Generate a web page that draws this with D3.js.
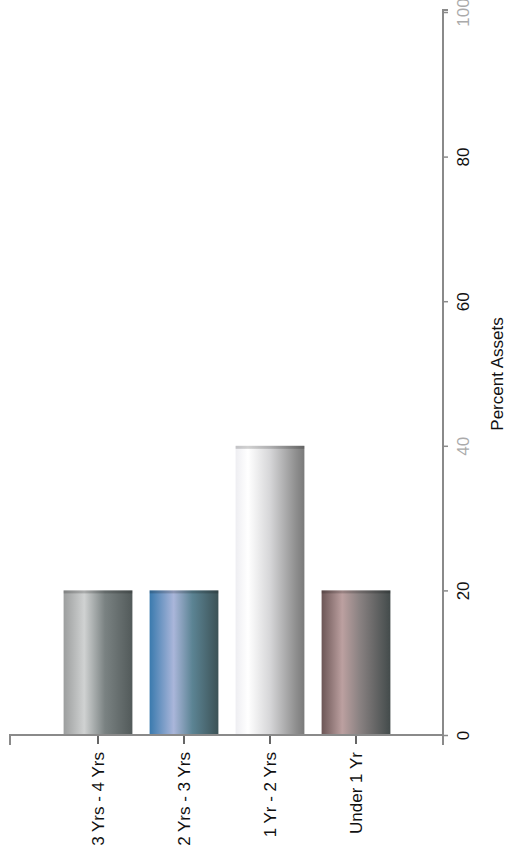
<!DOCTYPE html>
<html><head><meta charset="utf-8">
<script src="https://cdn.jsdelivr.net/npm/d3@7"></script>
<style>html,body{margin:0;padding:0;background:#fff;}svg{display:block;}</style>
</head><body>
<script>
const categories = ["3 Yrs - 4 Yrs", "2 Yrs - 3 Yrs", "1 Yr - 2 Yrs", "Under 1 Yr"];
const values = [20, 20, 40, 20];
const tickValues = [0, 20, 40, 60, 80, 100];
const axisTitle = "Percent Assets";

const W = 509, H = 858;
const svg = d3.select("body").append("svg").attr("width", W).attr("height", H);

const gradStops = [
  [["0%","#9c9e9e"],["30%","#d0d2d2"],["60%","#7a8282"],["100%","#525a5a"]],
  [["0%","#3a7aae"],["35%","#aab6da"],["62%","#5c8494"],["100%","#3c5256"]],
  [["0%","#eeeef2"],["18%","#ffffff"],["50%","#d6d6d8"],["88%","#8e8e8e"],["100%","#7a7a7a"]],
  [["0%","#6c5656"],["30%","#bca0a0"],["55%","#8a8282"],["100%","#434b4b"]]
];
const defs = svg.append("defs");
gradStops.forEach((stops, i) => {
  const g = defs.append("linearGradient").attr("id", "g" + i)
    .attr("x1", "0%").attr("x2", "100%").attr("y1", "0%").attr("y2", "0%");
  stops.forEach(s => g.append("stop").attr("offset", s[0]).attr("stop-color", s[1]));
});

const y = d3.scaleLinear().domain([0, 100]).range([735, 12]);
const x = d3.scaleBand().domain(categories).range([55, 399]).paddingInner(0.2).paddingOuter(0.1);

// bars
svg.selectAll("rect.bar").data(values).enter().append("rect")
  .attr("class", "bar")
  .attr("x", (d, i) => x(categories[i]))
  .attr("width", x.bandwidth())
  .attr("y", d => y(d))
  .attr("height", d => y(0) - y(d))
  .attr("fill", (d, i) => "url(#g" + i + ")");
// darker top caps
svg.selectAll("rect.cap").data(values).enter().append("rect")
  .attr("x", (d, i) => x(categories[i]))
  .attr("width", x.bandwidth())
  .attr("y", d => y(d))
  .attr("height", 3)
  .attr("fill", "#000").attr("opacity", 0.18);

// bottom (category) axis
const xAxis = svg.append("g").attr("transform", `translate(0,${y(0)})`)
  .call(d3.axisBottom(x).tickSize(9).tickPadding(8).tickSizeOuter(0));
xAxis.select(".domain").remove();
xAxis.selectAll(".tick line").attr("stroke", "#333").attr("stroke-width", 1.5);
xAxis.selectAll(".tick text")
  .attr("transform", "rotate(-90)")
  .attr("text-anchor", "end")
  .attr("x", -17).attr("y", 0).attr("dy", "0.35em")
  .attr("font-family", "Liberation Sans, Arial, sans-serif")
  .attr("font-size", 17).attr("fill", "#111");
svg.append("path")
  .attr("d", `M10,745V${y(0)}H443`)
  .attr("fill", "none").attr("stroke", "#8a8a8a").attr("stroke-width", 2);

// right (value) axis
const yAxis = svg.append("g").attr("transform", "translate(443,0)")
  .call(d3.axisRight(y).tickValues(tickValues).tickSize(5).tickSizeOuter(0).tickFormat(d3.format("d")));
yAxis.select(".domain").remove();
yAxis.selectAll(".tick line").attr("stroke", "#8a8a8a").attr("stroke-width", 1.5);
yAxis.selectAll(".tick text")
  .attr("transform", "rotate(-90)")
  .attr("text-anchor", "middle")
  .attr("x", 0).attr("y", 26).attr("dy", 0)
  .attr("font-family", "Liberation Sans, Arial, sans-serif")
  .attr("font-size", 17)
  .attr("fill", d => (d === 40 || d === 100) ? "#aaaaaa" : "#111");
svg.append("path")
  .attr("d", `M443,745V10H448`)
  .attr("fill", "none").attr("stroke", "#8a8a8a").attr("stroke-width", 2);

// axis title
svg.append("text")
  .attr("transform", `translate(503,${374}) rotate(-90)`)
  .attr("text-anchor", "middle")
  .attr("font-family", "Liberation Sans, Arial, sans-serif")
  .attr("font-size", 17).attr("fill", "#111")
  .text(axisTitle);
</script>
</body></html>
